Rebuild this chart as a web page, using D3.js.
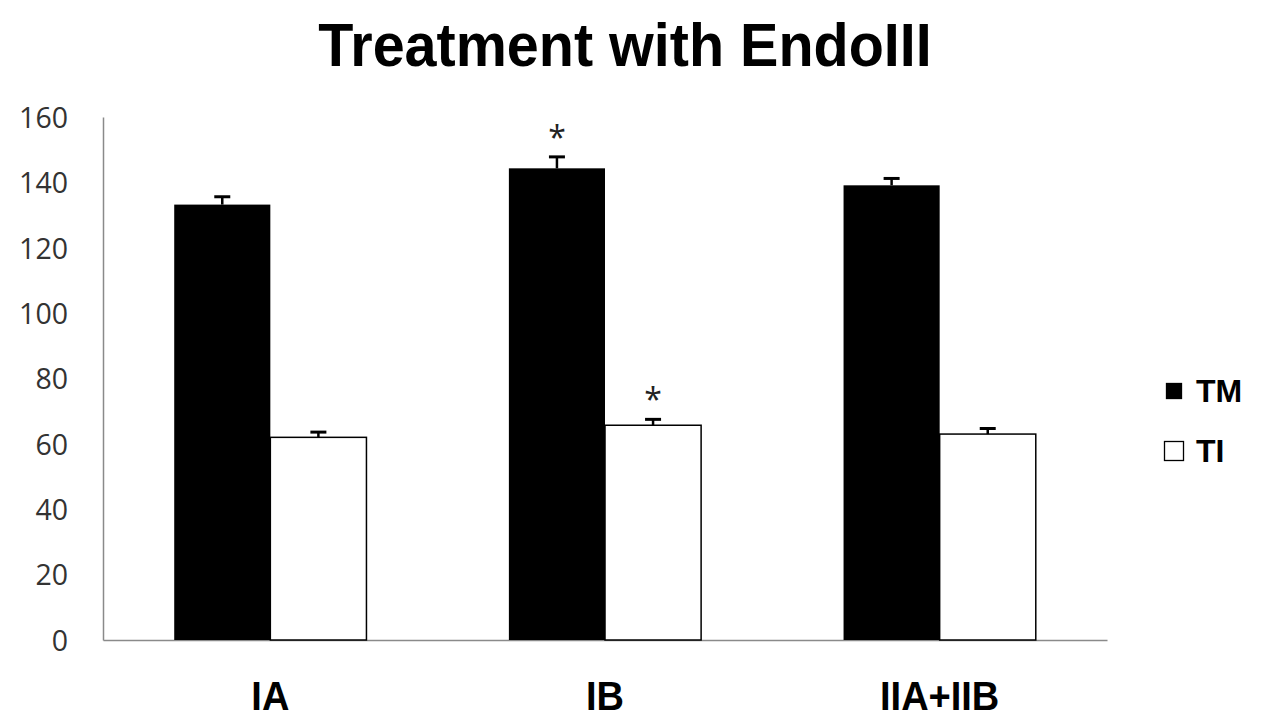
<!DOCTYPE html>
<html><head><meta charset="utf-8">
<script src="https://cdn.jsdelivr.net/npm/d3@7"></script>
<style>body{margin:0;background:#fff}svg{display:block}</style>
</head><body>
<script>
const categories = ["IA", "IB", "IIA+IIB"];
const seriesNames = ["TM", "TI"];
const tmValues = [133.2, 144.3, 139.1];
const tmErrors = [2.4, 3.5, 2.1];
const tiValues = [62.0, 65.7, 63.0];
const tiErrors = [1.6, 1.8, 1.7];
const tmSignificant = [false, true, false];
const tiSignificant = [false, true, false];
const yTicks = [0, 20, 40, 60, 80, 100, 120, 140, 160];
const title = "Treatment with EndoIII";

const W = 1261, H = 718;
const svg = d3.select("body").append("svg").attr("width", W).attr("height", H);
const x0 = 103, x1 = 1107, yTop = 117, yBot = 640;

const x = d3.scaleBand().domain(categories).range([x0, x1]).paddingInner(0.4256).paddingOuter(0.2128);
const xs = d3.scaleBand().domain(seriesNames).range([0, x.bandwidth()]);
const y = d3.scaleLinear().domain([0, 160]).range([yBot, yTop]);

svg.append("text").attr("transform", "translate(625,66) scale(1,1.06)").attr("text-anchor", "middle")
  .attr("font-family", "Liberation Sans, Arial, sans-serif").attr("font-weight", "bold")
  .attr("font-size", 57.5).attr("fill", "#000").text(title);

// y axis
const yAxis = d3.axisLeft(y).tickValues(yTicks).tickSize(0).tickPadding(35);
const gy = svg.append("g").attr("transform", `translate(${x0},0)`).call(yAxis);
gy.select(".domain").attr("stroke", "#8a8a8a").attr("stroke-width", 1.5);
gy.selectAll("text").attr("font-family", "Open Sans, Noto Sans, sans-serif").attr("font-size", 28.5)
  .attr("fill", "#333").attr("dy", "0.36em");

// x axis
const xAxis = d3.axisBottom(x).tickSize(0).tickPadding(0);
const gx = svg.append("g").attr("transform", `translate(0,${yBot})`).call(xAxis);
gx.select(".domain").attr("stroke", "#8a8a8a").attr("stroke-width", 1.5);
gx.selectAll(".tick text").attr("y", null).attr("dy", null)
  .attr("transform", "translate(0,70) scale(1,1.07)")
  .attr("font-family", "Liberation Sans, Arial, sans-serif")
  .attr("font-weight", "bold").attr("font-size", 38).attr("fill", "#000");

const data = categories.map((c, i) => ([
  {cat: c, s: "TM", v: tmValues[i], e: tmErrors[i], sig: tmSignificant[i]},
  {cat: c, s: "TI", v: tiValues[i], e: tiErrors[i], sig: tiSignificant[i]}
])).flat();

const g = svg.append("g");
g.selectAll("rect.bar").data(data).join("rect").attr("class", "bar")
  .attr("x", d => x(d.cat) + xs(d.s)).attr("width", xs.bandwidth())
  .attr("y", d => y(d.v)).attr("height", d => y(0) - y(d.v))
  .attr("fill", d => d.s === "TM" ? "#000" : "#fff")
  .attr("stroke", "#000").attr("stroke-width", d => d.s === "TM" ? 0 : 1.5);

// error bars
const cx = d => x(d.cat) + xs(d.s) + xs.bandwidth() / 2;
g.selectAll("line.err").data(data).join("line").attr("class", "err")
  .attr("x1", cx).attr("x2", cx).attr("y1", d => y(d.v)).attr("y2", d => y(d.v + d.e))
  .attr("stroke", "#000").attr("stroke-width", 2.5);
g.selectAll("line.cap").data(data).join("line").attr("class", "cap")
  .attr("x1", d => cx(d) - 8).attr("x2", d => cx(d) + 8)
  .attr("y1", d => y(d.v + d.e)).attr("y2", d => y(d.v + d.e))
  .attr("stroke", "#000").attr("stroke-width", 3);

// significance
g.selectAll("text.sig").data(data.filter(d => d.sig)).join("text").attr("class", "sig")
  .attr("x", cx).attr("y", d => y(d.v + d.e) - 8).attr("text-anchor", "middle")
  .attr("font-family", "Open Sans, Noto Sans, sans-serif").attr("font-size", 32).attr("fill", "#222")
  .text("*");

// legend
const leg = svg.append("g");
seriesNames.forEach((s, i) => {
  const ly = 391 + i * 60;
  const sz = s === "TM" ? 15 : 19;
  leg.append("rect").attr("x", 1174 - sz / 2).attr("y", ly - sz / 2).attr("width", sz).attr("height", sz)
    .attr("fill", s === "TM" ? "#000" : "#fff").attr("stroke", "#000").attr("stroke-width", 1.3);
  leg.append("text").attr("x", 1196).attr("y", ly + 11)
    .attr("font-family", "Liberation Sans, Arial, sans-serif").attr("font-weight", "bold")
    .attr("font-size", 32).attr("fill", "#000").text(s);
});
</script>
</body></html>
